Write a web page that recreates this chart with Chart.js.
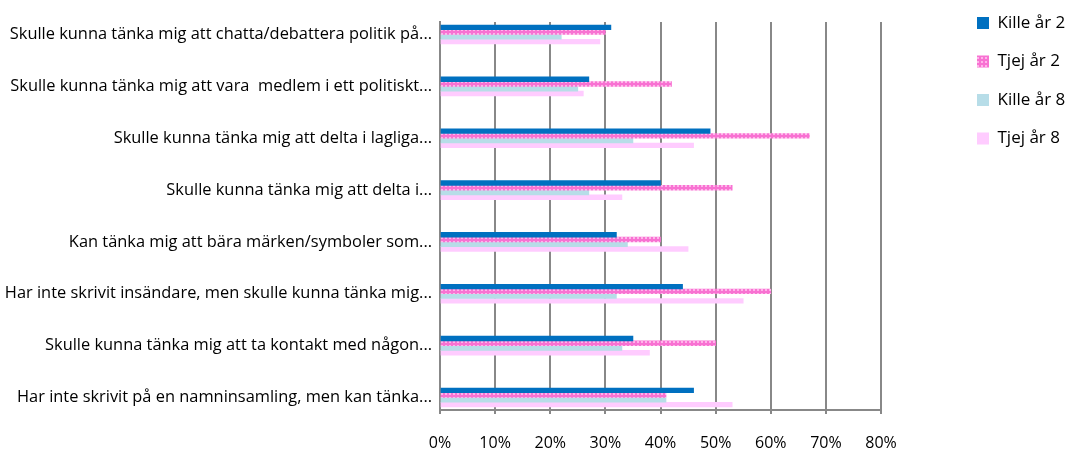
<!DOCTYPE html>
<html>
<head>
<meta charset="utf-8">
<script src="https://cdn.jsdelivr.net/npm/chart.js@4/dist/chart.umd.min.js"></script>
<style>
  body { margin: 0; background: #fff; }
</style>
</head>
<body>
<canvas id="bar-chart" width="1070" height="455"></canvas>
<script>
// Frågor (förkortade som i originalet)
const categories = [
  'Skulle kunna tänka mig att chatta/debattera politik på...',
  'Skulle kunna tänka mig att vara  medlem i ett politiskt...',
  'Skulle kunna tänka mig att delta i lagliga...',
  'Skulle kunna tänka mig att delta i...',
  'Kan tänka mig att bära märken/symboler som...',
  'Har inte skrivit insändare, men skulle kunna tänka mig...',
  'Skulle kunna tänka mig att ta kontakt med någon...',
  'Har inte skrivit på en namninsamling, men kan tänka...'
];
const killeAr2 = [31, 27, 49, 40, 32, 44, 35, 46];
const tjejAr2  = [30, 42, 67, 53, 40, 60, 50, 41];
const killeAr8 = [22, 25, 35, 27, 34, 32, 33, 41];
const tjejAr8  = [29, 26, 46, 33, 45, 55, 38, 53];
const xMax = 80;
const xStep = 10;

// mönster för Tjej år 2
function pinkPattern() {
  const c = document.createElement('canvas');
  c.width = 4; c.height = 4;
  const g = c.getContext('2d');
  g.fillStyle = '#f872d2';
  g.fillRect(0, 0, 4, 4);
  g.fillStyle = '#ffb4ea';
  g.fillRect(1, 1, 2, 2);
  return c.getContext('2d').createPattern(c, 'repeat');
}

const toPoints = arr => arr.map((v, i) => ({ x: v, y: i }));
const gridGrey = '#888888';
const labelFont = { family: 'Open Sans', size: 16.4 };

// flytta legenden dit den ligger i originalet
const legendPlace = {
  id: 'legendPlace',
  afterLayout(chart) {
    const l = chart.legend;
    const pad = l.options.labels.padding;
    const w = l.right - l.left, h = l.bottom - l.top;
    const fs = l.options.labels.font.size;
    l.left = 977 - pad;
    l.right = l.left + w;
    l.top = 17 - pad - Math.max((fs - 12) / 2, 0);
    l.bottom = l.top + h;
  }
};

const ctx = document.getElementById('bar-chart').getContext('2d');
new Chart(ctx, {
  type: 'bar',
  data: {
    datasets: [
      { label: 'Kille år 2', data: toPoints(killeAr2), backgroundColor: '#0070c0' },
      { label: 'Tjej år 2', data: toPoints(tjejAr2), backgroundColor: pinkPattern() },
      { label: 'Kille år 8', data: toPoints(killeAr8), backgroundColor: '#b7dde8' },
      { label: 'Tjej år 8', data: toPoints(tjejAr8), backgroundColor: '#ffccff' }
    ]
  },
  options: {
    indexAxis: 'y',
    responsive: false,
    animation: false,
    barThickness: 4.75,
    layout: { padding: { top: 22, right: 69.2, left: 0, bottom: 0 } },
    scales: {
      x: {
        type: 'linear',
        position: 'bottom',
        min: 0,
        max: xMax,
        afterFit: s => { s.height = 45; },
        ticks: {
          stepSize: xStep,
          callback: v => v + '%',
          color: '#000',
          font: { family: 'Open Sans', size: 16 },
          padding: 20
        },
        grid: { color: gridGrey, lineWidth: 2, tickLength: 4, tickColor: gridGrey },
        border: { color: gridGrey, width: 2 }
      },
      y: {
        type: 'linear',
        reverse: true,
        offset: false,
        min: -0.241,
        max: 7.241,
        afterFit: s => { s.width = 440; },
        afterBuildTicks: s => { s.ticks = categories.map((c, i) => ({ value: i })); },
        ticks: {
          autoSkip: false,
          callback: v => categories[v],
          color: '#000',
          font: labelFont,
          padding: 8
        },
        grid: { display: false, drawTicks: false },
        border: { color: gridGrey, width: 2 }
      }
    },
    plugins: {
      tooltip: { enabled: false },
      legend: {
        position: 'right',
        align: 'start',
        labels: {
          boxWidth: 12,
          boxHeight: 12,
          padding: 21.5,
          color: '#000',
          font: { family: 'Open Sans', size: 17 }
        }
      }
    }
  },
  plugins: [legendPlace]
});
</script>
</body>
</html>
